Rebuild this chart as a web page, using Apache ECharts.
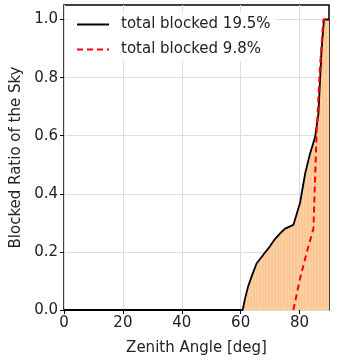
<!DOCTYPE html>
<html>
<head>
<meta charset="utf-8">
<script src="https://cdn.jsdelivr.net/npm/echarts@6/dist/echarts.min.js"></script>
<style>html,body{margin:0;padding:0;background:#fff}#c{width:339px;height:361px}</style>
</head>
<body>
<div id="c"></div>
<script>
var seriesNames = ['total blocked 19.5%', 'total blocked 9.8%'];
var blackX = [0, 60.7, 61.5, 62.5, 63.7, 65.4, 67.7, 70.0, 71.7, 73.5, 75.1, 77.9, 80.2, 81.9, 83.6, 85.3, 86.4, 87.5, 88.3, 90];
var blackY = [0, 0, 0.04, 0.08, 0.115, 0.16, 0.19, 0.22, 0.245, 0.265, 0.28, 0.293, 0.37, 0.47, 0.54, 0.596, 0.676, 0.90, 1.0, 1.0];
var redX = [77.9, 80.2, 82.5, 84.7, 85.8, 86.9, 88.1, 90];
var redY = [0, 0.11, 0.2, 0.28, 0.61, 0.83, 1.0, 1.0];
var xTicks = [0, 20, 40, 60, 80];
var yTicks = [0, 0.2, 0.4, 0.6, 0.8, 1.0];

function zip(xs, ys) { return xs.map(function (x, i) { return [x, ys[i]]; }); }

var font = 'DejaVu Sans';
var chart = echarts.init(document.getElementById('c'), null, {renderer: 'canvas'});
chart.setOption({
  animation: false,
  backgroundColor: '#fff',
  grid: {left: 64, right: 10, top: 5, bottom: 49, show: true, borderColor: '#000', borderWidth: 1.5, backgroundColor: 'transparent'},
  legend: {
    left: 68, top: 13, orient: 'vertical', backgroundColor: '#fff', padding: [4, 6, 4, 8],
    itemWidth: 32, itemHeight: 14, itemGap: 10,
    itemStyle: {opacity: 0},
    textStyle: {fontFamily: font, fontSize: 15, color: '#222', padding: [0, 0, 0, 7]},
    data: seriesNames
  },
  xAxis: {
    type: 'value', min: 0, max: 90,
    name: 'Zenith Angle [deg]', nameLocation: 'middle', nameGap: 31,
    nameTextStyle: {fontFamily: font, fontSize: 15, color: '#222'},
    axisLine: {show: false},
    axisTick: {show: true, length: 4, inside: false, lineStyle: {color: '#000', width: 1}, customValues: xTicks},
    axisLabel: {fontFamily: font, fontSize: 15, color: '#222', margin: 6, customValues: xTicks},
    splitLine: {show: true, lineStyle: {color: '#dddddd', width: 1}},
    interval: 20
  },
  yAxis: {
    type: 'value', min: 0, max: 1.05,
    name: 'Blocked Ratio of the Sky', nameLocation: 'middle', nameGap: 33,
    nameTextStyle: {fontFamily: font, fontSize: 15, color: '#222'},
    axisLine: {show: false},
    axisTick: {show: true, length: 4, lineStyle: {color: '#000', width: 1}, customValues: yTicks},
    axisLabel: {fontFamily: font, fontSize: 15, color: '#222', margin: 6, customValues: yTicks, formatter: function (v) { return v.toFixed(1); }},
    splitLine: {show: true, lineStyle: {color: '#dddddd', width: 1}},
    interval: 0.2
  },
  series: [
    {
      name: seriesNames[0], type: 'line', data: zip(blackX, blackY), symbol: 'none', z: 3,
      lineStyle: {color: '#000', width: 1.8},
      itemStyle: {color: '#000', decal: {symbol: 'rect', symbolSize: 1, color: 'rgba(255,240,225,0.25)', dashArrayX: [1, 2], dashArrayY: [10, 0], rotation: 0}},
      areaStyle: {color: '#fdc894', opacity: 1, origin: 'start'}
    },
    {
      name: seriesNames[1], type: 'line', data: zip(redX, redY), symbol: 'none', z: 4,
      lineStyle: {color: '#ff0000', width: 2, type: [6, 4]},
      itemStyle: {color: '#ff0000'}
    }
  ]
});
</script>
</body>
</html>
